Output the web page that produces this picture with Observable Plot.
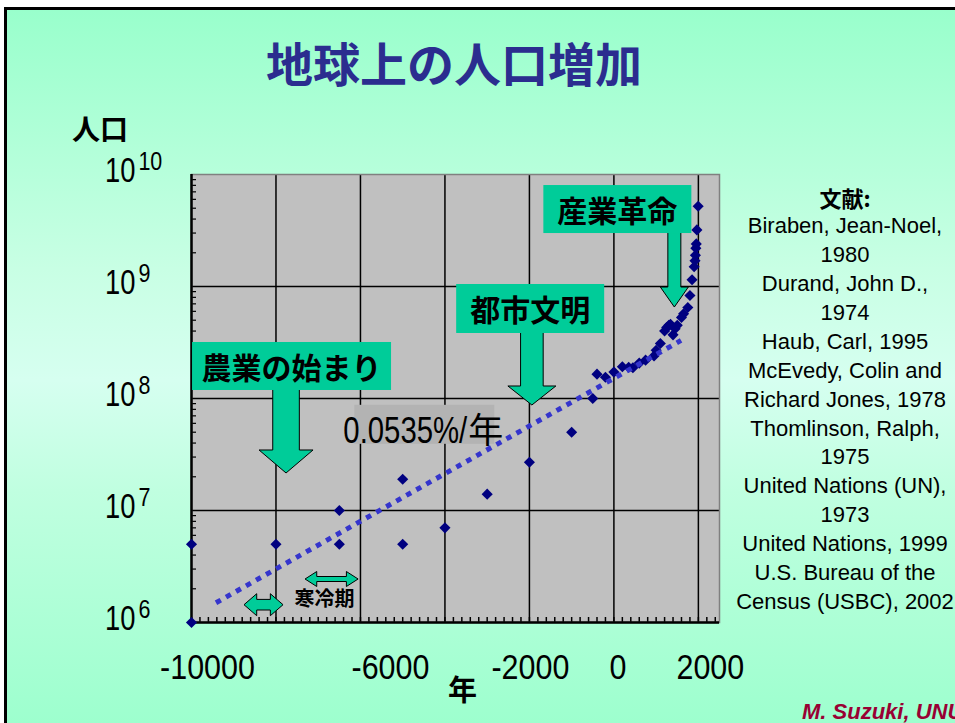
<!DOCTYPE html>
<html>
<head>
<meta charset="utf-8">
<script src="https://cdn.jsdelivr.net/npm/d3@7"></script>
<script src="https://cdn.jsdelivr.net/npm/@observablehq/plot@0.6"></script>
<style>
  body { margin: 0; background: white; }
  #page { position: relative; width: 955px; height: 723px; overflow: hidden; background: white; }
  #slide { position: absolute; left: 4px; top: 7px; width: 970px; height: 740px;
    border-top: 3px solid #000; border-left: 3px solid #000;
    background: linear-gradient(to bottom, #99ffcc 0%, #c8ffe4 35%, #d6fff0 50%, #c0ffe0 65%, #99ffcc 100%); }
  .lbl { position: absolute; white-space: nowrap; }
  #title { left: 0; width: 908px; top: 37px; text-align: center; font: bold 47px/49px "Noto Sans CJK JP", sans-serif; color: #2b2d8f; }
  #ylabel { left: 72px; top: 112px; font: bold 28px/32px "Noto Sans CJK JP", sans-serif; color: #000; }
  #xlabel { left: 448px; top: 672px; font: bold 29px/32px "Noto Sans CJK JP", sans-serif; color: #000; }
  #refs { left: 725px; width: 240px; top: 183px; text-align: center; font: 22px/28.93px "Liberation Sans", Arial, sans-serif; color: #000; }
  #refs .head { font-family: "Noto Sans CJK JP", sans-serif; font-weight: bold; }
  #credit { left: 802px; top: 700px; font: italic bold 22px/24px "Liberation Sans", Arial, sans-serif; color: #990033; }
  #chart { position: absolute; left: 0; top: 0; }
</style>
</head>
<body>
<div id="page">
  <div id="slide"></div>
  <div class="lbl" id="title"></div>
  <div class="lbl" id="ylabel"></div>
  <div class="lbl" id="xlabel"></div>
  <div class="lbl" id="refs"></div>
  <div class="lbl" id="credit"></div>
  <div id="chart"></div>
</div>
<script>
// ---------------- data ----------------
const titleText = "地球上の人口増加";
const yAxisTitle = "人口";
const xAxisTitle = "年";
const creditText = "M. Suzuki, UNU";

const years = [-10000, -10000, -8000, -6500, -6500, -5000, -5000, -4000, -3000, -2000,
  -1000, -500, -400, -200, 0, 200, 350, 450, 600, 750,
  950, 1000, 1100, 1200, 1250, 1300, 1340, 1400, 1450, 1500,
  1600, 1650, 1750, 1800, 1850, 1900, 1920, 1930, 1940, 1950,
  1965, 1995];
const population = [1e6, 5e6, 5e6, 1e7, 5e6, 1.9e7, 5e6, 7e6, 1.4e7, 2.7e7,
  5e7, 1e8, 1.65e8, 1.55e8, 1.72e8, 1.92e8, 1.9e8, 1.88e8, 2.07e8, 2.2e8,
  2.4e8, 2.7e8, 3.1e8, 4.0e8, 4.3e8, 4.5e8, 4.6e8, 3.7e8, 4.2e8, 4.5e8,
  5.3e8, 5.7e8, 6.5e8, 8.3e8, 1.15e9, 1.5e9, 1.7e9, 1.9e9, 2.2e9, 2.4e9,
  3.2e9, 5.2e9];

const trendYears = [-9420, 1590];
const trendPop = [1.5e6, 3.3e8];
const trendLabel = "0.0535%/年";
const trendLabelYear = -4500;
const trendLabelPop = 5.2e7;

const xTickLabels = [-10000, -6000, -2000, 0, 2000];
const yTickValues = [1e6, 1e7, 1e8, 1e9, 1e10];
const xGrid = [-8000, -6000, -4000, -2000, 0, 2000];
const yGrid = [1e7, 1e8, 1e9];

const calloutLabels = ["農業の始まり", "都市文明", "産業革命"];
const calloutYears = [-7750, -1930, 1443];
const calloutPops = [2.14e7, 8.66e7, 6.49e8];

const coldLabel = "寒冷期";
const coldLabelYear = -6850;
const coldLabelPop = 1.6e6;
const coldStartYears = [-8745, -7300];
const coldEndYears = [-7821, -6044];
const coldPops = [1.427e6, 2.42e6];

const references = [
  "Biraben, Jean-Noel,", "1980", "Durand, John D.,", "1974", "Haub, Carl, 1995",
  "McEvedy, Colin and", "Richard Jones, 1978", "Thomlinson, Ralph,", "1975",
  "United Nations (UN),", "1973", "United Nations, 1999", "U.S. Bureau of the",
  "Census (USBC), 2002"];
const referencesHead = "文献:";

// ---------------- styles / geometry (pixels) ----------------
const GREEN = "#00cc99";
const NUMFONT = "'Liberation Sans', Arial, sans-serif";
const CJKFONT = "'Noto Sans CJK JP', sans-serif";
const DIGIT_EM = 0.556; // Arial/Liberation digit advance
const calloutShapes = [
  {box: [-94, 105, -131, -83], shaft: 13.3, head: 27, headLen: 23},
  {box: [-75.7, 72.3, -121, -72], shaft: 11.3, head: 24, headLen: 19},
  {box: [-131, 17, -122, -74], shaft: 6.5, head: 14, headLen: 20}
];
const coldShapes = [
  {len: 12.7, head: 11, shaft: 5.3},
  {len: 11.7, head: 7.5, shaft: 2.5}
];
const xLabelShift = [16, 30, 1, 4, 12];

// ---------------- page text ----------------
document.getElementById("title").textContent = titleText;
document.getElementById("ylabel").textContent = yAxisTitle;
document.getElementById("xlabel").textContent = xAxisTitle;
document.getElementById("credit").textContent = creditText;
const refs = document.getElementById("refs");
const h = document.createElement("div"); h.className = "head"; h.textContent = referencesHead; refs.appendChild(h);
references.forEach(r => { const d = document.createElement("div"); d.textContent = r; refs.appendChild(d); });

// ---------------- chart ----------------
const points = years.map((y, i) => ({year: y, pop: population[i]}));
const trend = trendYears.map((y, i) => ({year: y, pop: trendPop[i]}));
const xMinor = d3.range(-10000, 2501, 200);
const yMinor = d3.range(6, 10).flatMap(n => d3.range(2, 10).map(k => k * 10 ** n));

const W = 955, H = 723, ML = 191, MR = 236, MT = 174, MB = 101;
const frameW = W - ML - MR, frameH = H - MT - MB;

// y tick labels: "10" with superscript exponent, horizontally condensed numerals
function yTickLabels(index, scales) {
  const g = d3.create("svg:g").attr("fill", "#000").attr("font-family", NUMFONT).attr("text-anchor", "start");
  const baseScale = 0.76, supScale = 0.86;
  yTickValues.forEach(v => {
    const y = scales.y(v) - 5;
    const exp = String(Math.round(Math.log10(v)));
    const x0 = ML - 86;
    const baseW = 2 * DIGIT_EM * 36 * baseScale;
    g.append("text").attr("class", "ylab").attr("transform", `translate(${x0},${y + 13}) scale(${baseScale},1)`)
      .attr("font-size", 36).text("10");
    g.append("text").attr("class", "ylab").attr("transform", `translate(${x0 + baseW + 3},${y + 1}) scale(${supScale},1)`)
      .attr("font-size", 25).text(exp);
  });
  return g.node();
}

function annotations(index, scales) {
  const g = d3.create("svg:g");
  // cold-period double arrows
  coldStartYears.forEach((y0, i) => {
    const x1 = scales.x(y0), x2 = scales.x(coldEndYears[i]), y = scales.y(coldPops[i]);
    const s = coldShapes[i];
    const pts = [[x1, y], [x1 + s.len, y - s.head], [x1 + s.len, y - s.shaft], [x2 - s.len, y - s.shaft],
      [x2 - s.len, y - s.head], [x2, y], [x2 - s.len, y + s.head], [x2 - s.len, y + s.shaft],
      [x1 + s.len, y + s.shaft], [x1 + s.len, y + s.head]];
    g.append("polygon").attr("points", pts.map(p => p.join(",")).join(" "))
      .attr("fill", GREEN).attr("stroke", "#000").attr("stroke-width", 1);
  });
  // callouts
  calloutLabels.forEach((label, i) => {
    const tx = scales.x(calloutYears[i]), ty = scales.y(calloutPops[i]);
    const s = calloutShapes[i];
    const top = s.box[3] - 2;
    const pts = [[-s.shaft, top], [-s.shaft, -s.headLen], [-s.head, -s.headLen], [0, 0],
      [s.head, -s.headLen], [s.shaft, -s.headLen], [s.shaft, top]];
    g.append("polygon").attr("points", pts.map(p => [tx + p[0], ty + p[1]].join(",")).join(" "))
      .attr("fill", GREEN).attr("stroke", "#000").attr("stroke-width", 1);
    g.append("rect").attr("x", tx + s.box[0]).attr("y", ty + s.box[2])
      .attr("width", s.box[1] - s.box[0]).attr("height", s.box[3] - s.box[2]).attr("fill", GREEN);
    g.append("text").attr("x", tx + (s.box[0] + s.box[1]) / 2).attr("y", ty + (s.box[2] + s.box[3]) / 2)
      .attr("text-anchor", "middle").attr("dominant-baseline", "central")
      .attr("font-family", CJKFONT).attr("font-weight", "bold").attr("font-size", 30).attr("fill", "#000").text(label);
  });
  // rate label with grey box
  {
    const cx = scales.x(trendLabelYear), cy = scales.y(trendLabelPop);
    g.append("rect").attr("x", cx - 69).attr("y", cy - 25).attr("width", 140).attr("height", 39).attr("fill", "#b3b3b3");
    const latinScale = 0.815, latinW = 124;
    g.append("text").attr("transform", `translate(${cx - 80},${cy + 13}) scale(${latinScale},1)`)
      .attr("font-size", 36).attr("fill", "#000").attr("text-anchor", "start")
      .attr("font-family", NUMFONT).text(trendLabel.slice(0, -1));
    g.append("text").attr("x", cx - 80 + latinW + 1).attr("y", cy + 13).attr("font-size", 35).attr("fill", "#000")
      .attr("text-anchor", "start")
      .attr("font-family", CJKFONT).text(trendLabel.slice(-1));
  }
  return g.node();
}

const plot = Plot.plot({
  width: W, height: H,
  marginLeft: ML, marginRight: MR, marginTop: MT, marginBottom: MB,
  style: {background: "transparent", fontFamily: NUMFONT, overflow: "visible"},
  x: {type: "linear", domain: [-10000, 2500], axis: null},
  y: {type: "log", domain: [1e6, 1e10], axis: null},
  marks: [
    Plot.frame({fill: "#c0c0c0"}),
    Plot.ruleX(xGrid, {x: d => d, stroke: "#000", strokeWidth: 1.5}),
    Plot.ruleY(yGrid, {y: d => d, stroke: "#000", strokeWidth: 1.5}),
    Plot.ruleX(xMinor, {x: d => d, insetTop: frameH - 5, stroke: "#000", strokeWidth: 1.5}),
    Plot.ruleY(yMinor, {y: d => d, insetRight: frameW - 5, stroke: "#000", strokeWidth: 1.2}),
    Plot.frame({stroke: "#808080", strokeWidth: 1.5}),
    Plot.ruleX([-10000], {x: d => d, stroke: "#000", strokeWidth: 2.5}),
    Plot.ruleY([1e6], {y: d => d, stroke: "#000", strokeWidth: 2.5}),
    annotations,
    Plot.text([coldLabel], {x: () => coldLabelYear, y: () => coldLabelPop, text: d => d,
      fontFamily: CJKFONT, fontWeight: "bold", fontSize: 20, fill: "#000"}),
    Plot.dot(points, {x: "year", y: "pop", symbol: "diamond2", r: 5, fill: "#000080"}),
    Plot.line(trend, {x: "year", y: "pop", stroke: "#3535cc", strokeWidth: 5, strokeDasharray: "5.5,6", strokeLinecap: "butt"}),
    yTickLabels,
    // x tick labels
    ...xTickLabels.map((t, i) => Plot.text([t], {x: d => d, text: d => String(d), frameAnchor: "bottom",
      lineAnchor: "middle", dy: 45, dx: xLabelShift[i], fontSize: 35, fill: "#000"}))
  ]
});

document.getElementById("chart").appendChild(plot);

// condensed numerals for x tick labels
const xLabelSet = new Set(xTickLabels.map(String));
d3.select(plot).selectAll("text").each(function () {
  if (this.classList.contains("ylab")) return;
  if (xLabelSet.has(this.textContent)) {
    const w = this.getComputedTextLength();
    this.setAttribute("textLength", w * 0.87);
    this.setAttribute("lengthAdjust", "spacingAndGlyphs");
  }
});
</script>
</body>
</html>
